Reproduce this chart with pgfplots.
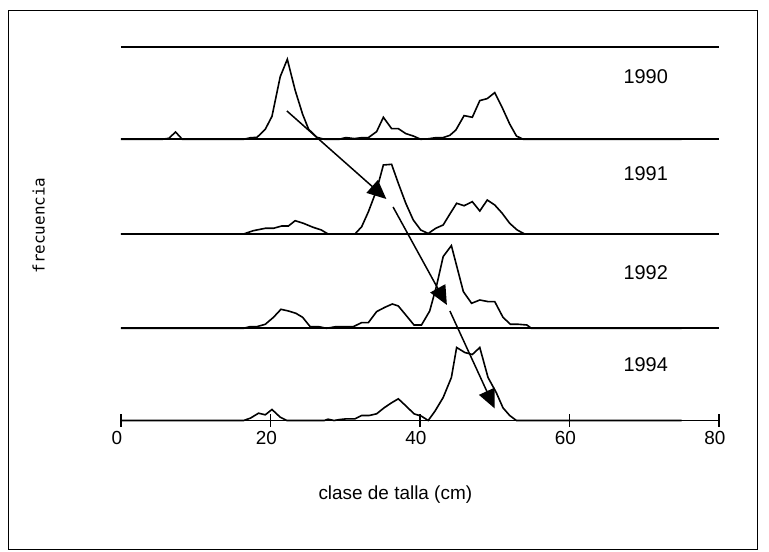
\documentclass[border=0pt]{standalone}
\usepackage{pgfplots}
\pgfplotsset{compat=1.18}
\usepackage{fontspec}
\setmainfont{Liberation Sans}
\newfontfamily\monofont{DejaVu Sans Mono}
\usetikzlibrary{arrows.meta}
\tikzset{dl/.style={black, solid, line width=1.6bp, mark=none, sharp plot}}
\begin{document}
\begin{tikzpicture}
\useasboundingbox (-121bp,-131.5bp) rectangle (648bp,420.5bp);
\draw[line width=1bp] (-112bp,-128.5bp) rectangle (636bp,409.5bp);
\begin{axis}[
  at={(0,0)}, anchor=south west,
  scale only axis, width=598bp, height=373.2bp,
  xmin=0, xmax=80, ymin=0, ymax=373.2,
  axis x line*=bottom, axis y line=none,
  x axis line style={line width=1.6bp},
  xtick={0,20,40,60,80}, ytick=\empty,
  tick align=center, major tick length=12bp,
  tick style={black, line width=1.4bp},
  x tick label style={font=\fontsize{19}{23}\selectfont, yshift=-1bp, xshift=-4bp},
  /pgf/number format/assume math mode=true,
  clip=false,
]
% baselines and top line
\addplot[dl] coordinates {(0,373.2) (80,373.2)};
\addplot[dl] coordinates {(0,281.2) (80,281.2)};
\addplot[dl] coordinates {(0,186.5) (80,186.5)};
\addplot[dl] coordinates {(0,92.2) (80,92.2)};
% 1990
\addplot[dl] table[x=x, y expr=\thisrow{f}+281.2] {
x f
0 0
5.5 0
6.4 1
7.3 7.3
8.2 0
16.4 0
17.3 1.5
18.2 2
19.3 10
20.2 23
21.3 62.6
22.25 80
23.3 49
24.3 25
25.1 10
26.2 2
27.2 0
29.2 0
29.7 1
30.1 1.7
31.2 0.7
32.3 1.7
33.1 1.7
34.2 7.7
35.1 22
36.2 10.7
37.1 10.7
38.1 5.7
39.1 3.3
40.1 0
41.1 0.5
42 1.5
43.1 1.7
44.0 4
44.8 9.3
45.9 23.7
47 22
48 38.7
49 40.7
50 46.7
51 31.7
52 15.3
52.9 3.3
53.8 0
75 0
};
% 1991
\addplot[dl] table[x=x, y expr=\thisrow{f}+186.5] {
x f
0 0
16.4 0
17.7 3.3
19.3 5.7
20.4 5.7
21.5 8
22.4 8
23.3 13.3
24.4 10.7
25.7 6.7
26.8 4
27.7 0
31.3 0
32.2 7.3
33.1 22.3
34.2 44
35.1 69
36.2 69.7
37.1 50.7
38.1 30.7
39.1 14
40.1 4
41.1 0.5
42.1 5.7
43.1 9
44.0 20
44.9 30.7
45.9 28.3
47 32.3
48 23
49 34
50 29
51 20.7
52 10.7
53 4
54 0
75 0
};
% 1992
\addplot[dl] table[x=x, y expr=\thisrow{f}+92.2] {
x f
0 0
16.4 0
17.3 1.7
18.2 1.7
19.3 4
20.4 11
21.4 19
22.4 17.3
23.4 15
24.3 11
25.3 1.7
26.4 1.7
27.5 0
28.8 1.7
29.9 1.7
31.1 1.7
32.2 5.7
33.1 5.7
34.2 16.7
35.3 21
36.3 24.3
37.1 22.3
38.1 13.3
39.2 3.3
40.2 3.3
41.3 17.3
42.2 42
43.1 71.7
44.2 82.7
45.8 36.7
46.9 25
48 28.3
49.1 26.7
50 26.7
51.1 11
52.1 4
53.2 4
54.3 3.3
54.9 0
75 0
};
% 1994
\addplot[dl] table[x=x, y expr=\thisrow{f}] {
x f
0 0
16.4 0
17.3 2.3
18.4 7.3
19.3 5.7
20.2 11
21.3 3.3
22.2 0
27.2 0
27.7 1.3
28.5 0
29.3 1
30.2 1.7
31.3 1.7
32.2 5
33.2 5
34.2 6.7
35.2 12.7
36.2 17.7
37.1 21.7
38.2 14
39.2 6.7
40.2 4.3
41.1 0
42 9.3
43.1 23
44.2 43
44.9 73
46 68
47 66
48 73
49.1 43
50.2 28
51.1 12.7
52 5
52.9 0
75 0
};
% arrows
\draw[line width=1.5bp, -{Triangle[length=19bp,width=17bp]}] (axis cs:22.2,309.5) -- (axis cs:35.5,221.5);
\draw[line width=1.5bp, -{Triangle[length=19bp,width=17bp]}] (axis cs:36.4,213.5) -- (axis cs:43.6,115.5);
\draw[line width=1.5bp, -{Triangle[length=19bp,width=17bp]}] (axis cs:44.0,109.5) -- (axis cs:50.0,12);
% year labels
\node[font=\fontsize{20}{24}\selectfont] at (axis cs:70.2,343.5) {1990};
\node[font=\fontsize{20}{24}\selectfont] at (axis cs:70.2,246.5) {1991};
\node[font=\fontsize{20}{24}\selectfont] at (axis cs:70.2,147.5) {1992};
\node[font=\fontsize{20}{24}\selectfont] at (axis cs:70.2,55.5) {1994};
% axis labels
\node[font=\fontsize{19}{23}\selectfont] at (axis cs:36.7,-74) {clase de talla (cm)};
\node[font=\monofont\fontsize{16}{19}\selectfont, rotate=90] at (axis cs:-11.0,195) {frecuencia};
\end{axis}
\end{tikzpicture}
\end{document}
